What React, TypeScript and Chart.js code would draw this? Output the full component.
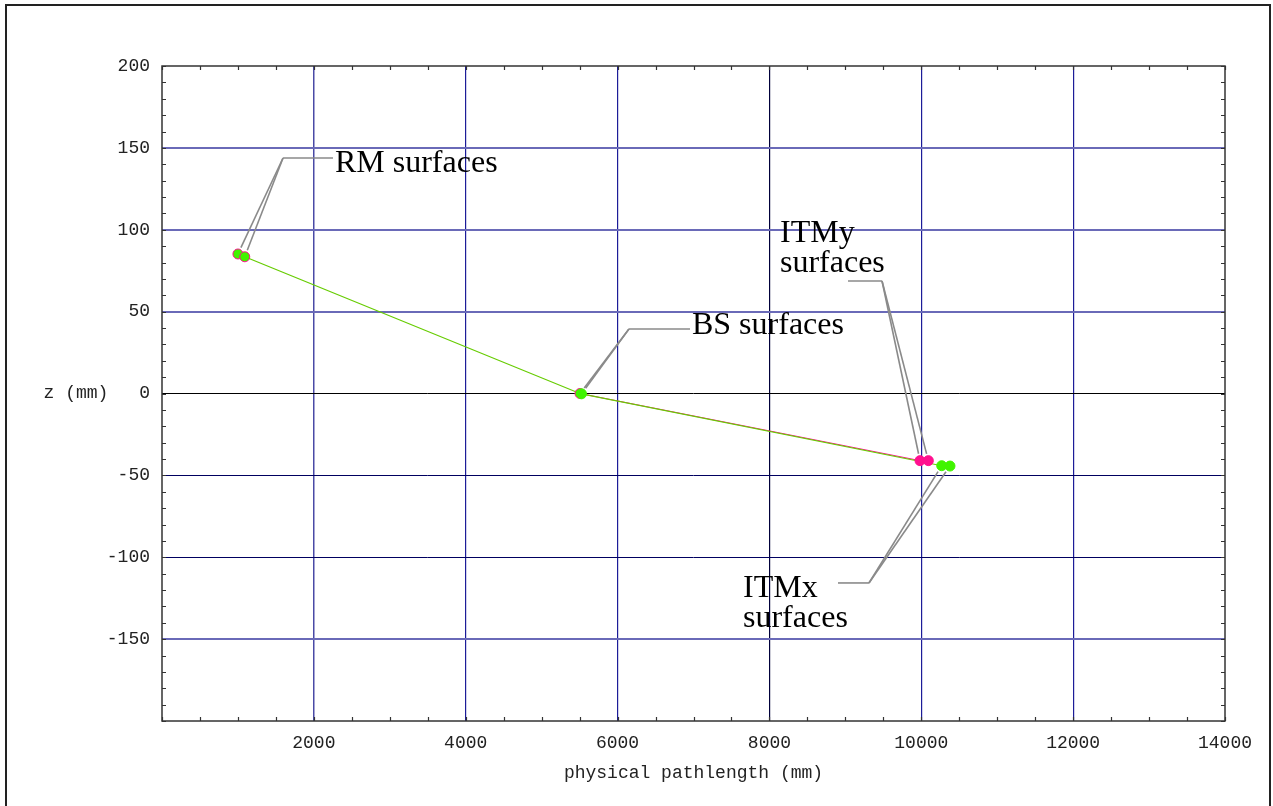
import React, { useEffect, useRef } from "react";
import { Chart, registerables } from "chart.js";

Chart.register(...registerables);

// ---- data (physical pathlength mm, z mm) ----
const rmX = [1000, 1090];
const rmZ = [85.2, 83.5];
const bsX = [5505, 5525];
const bsZ = [0.0, -0.2];
const itmyX = [9983, 10093];
const itmyZ = [-41.0, -41.0];
const itmxX = [10269, 10378];
const itmxZ = [-44.1, -44.3];

// ---- axes ----
const xMin = 0;
const xMax = 14000;
const xStep = 2000;
const xMinorStep = 500;
const zMin = -200;
const zMax = 200;
const zStep = 50;
const zMinorStep = 10;
const xTitle = "physical pathlength (mm)";
const zTitle = "z (mm)";

// ---- annotations (text, leader elbow, leader bar end, in data units) ----
const annText = [["RM surfaces"], ["BS surfaces"], ["ITMy", "surfaces"], ["ITMx", "surfaces"]];
const annTextX = [2278, 6980, 8139, 7652];
const annTextZ = [135.3, 36.3, 92.5, -124.3];
const annElbowX = [1594, 6150, 9483, 9311];
const annElbowZ = [143.8, 39.4, 68.7, -115.7];
const annBarEndX = [2252, 6954, 9035, 8903];
const annTargetsX = [rmX, bsX, itmyX, itmxX];
const annTargetsZ = [rmZ, bsZ, itmyZ, itmxZ];

const GREEN_LINE = "#66cc00";
const GREEN_PT = "#40f400";
const MAGENTA = "#ff108f";
const TICK_FONT = '"Liberation Mono", "DejaVu Sans Mono", monospace';
const SERIF = '"Liberation Serif", "DejaVu Serif", serif';

const pts = (xs: number[], zs: number[]) => xs.map((x, i) => ({ x, y: zs[i] }));

const decorPlugin = {
  id: "decor",
  afterDraw(chart: any) {
    const { ctx, chartArea: a } = chart;
    const xs = chart.scales.x;
    const ys = chart.scales.y;
    ctx.save();
    // outer frame
    ctx.strokeStyle = "#222";
    ctx.lineWidth = 2;
    ctx.strokeRect(6, 5, 1264, 830);
    // plot box
    ctx.strokeStyle = "#333";
    ctx.lineWidth = 1.5;
    ctx.strokeRect(a.left, a.top, a.right - a.left, a.bottom - a.top);
    // minor ticks, inward on all sides
    ctx.lineWidth = 1.2;
    ctx.beginPath();
    for (let v = xMin; v <= xMax; v += xMinorStep) {
      const p = Math.round(xs.getPixelForValue(v)) + 0.5;
      ctx.moveTo(p, a.bottom);
      ctx.lineTo(p, a.bottom - 4);
      ctx.moveTo(p, a.top);
      ctx.lineTo(p, a.top + 4);
    }
    for (let v = zMin; v <= zMax; v += zMinorStep) {
      const p = Math.round(ys.getPixelForValue(v)) + 0.5;
      ctx.moveTo(a.left, p);
      ctx.lineTo(a.left + 4, p);
      ctx.moveTo(a.right, p);
      ctx.lineTo(a.right - 4, p);
    }
    ctx.stroke();
    // z title (horizontal)
    ctx.fillStyle = "#222";
    ctx.font = "18px " + TICK_FONT;
    ctx.textAlign = "center";
    ctx.textBaseline = "middle";
    ctx.fillText(zTitle, 76, ys.getPixelForValue(0));
    // annotations
    for (let i = 0; i < annText.length; i++) {
      const ex = xs.getPixelForValue(annElbowX[i]);
      const ey = ys.getPixelForValue(annElbowZ[i]);
      const bx = xs.getPixelForValue(annBarEndX[i]);
      ctx.strokeStyle = "#8a8a8a";
      ctx.lineWidth = 1.6;
      ctx.beginPath();
      ctx.moveTo(bx, ey);
      ctx.lineTo(ex, ey);
      ctx.stroke();
      const tx = annTargetsX[i];
      const tz = annTargetsZ[i];
      for (let k = 0; k < tx.length; k++) {
        const px = xs.getPixelForValue(tx[k]);
        const py = ys.getPixelForValue(tz[k]);
        const dx = ex - px;
        const dy = ey - py;
        const len = Math.hypot(dx, dy);
        const sx = px + (dx / len) * 7;
        const sy = py + (dy / len) * 7;
        ctx.beginPath();
        ctx.moveTo(ex, ey);
        ctx.lineTo(sx, sy);
        ctx.stroke();
      }
      ctx.fillStyle = "#000";
      ctx.font = "32px " + SERIF;
      ctx.textAlign = "left";
      ctx.textBaseline = "alphabetic";
      const tX = xs.getPixelForValue(annTextX[i]);
      const tY = ys.getPixelForValue(annTextZ[i]);
      annText[i].forEach((line, j) => ctx.fillText(line, tX, tY + j * 30));
    }
    ctx.restore();
  },
};

export default function App() {
  const ref = useRef<HTMLCanvasElement | null>(null);
  useEffect(() => {
    document.body.style.margin = "0";
    document.body.style.overflow = "hidden";
    const canvas = ref.current!;
    const xGridColor = (c: any) => {
      const v = c.tick ? c.tick.value : null;
      if (v === null || v === xMin || v === xMax) return "rgba(0,0,0,0)";
      if (v === 2000) return "#4a4aa6";
      if (v === 8000) return "#00003a";
      return "#1c1c98";
    };
    const xGridWidth = (c: any) => (c.tick && c.tick.value === 2000 ? 1.5 : 1.2);
    const yGridColor = (c: any) => {
      const v = c.tick ? c.tick.value : null;
      if (v === null || v === zMin || v === zMax) return "rgba(0,0,0,0)";
      if (v === 0) return "#000000";
      if (v === -50 || v === -100) return "#000060";
      return "#6a6ab8";
    };
    const yGridWidth = (c: any) => {
      const v = c.tick ? c.tick.value : null;
      if (v === 0 || v === -50 || v === -100) return 1;
      return 2;
    };
    const chart = new Chart(canvas, {
      type: "scatter",
      data: {
        datasets: [
          {
            label: "ITMy",
            data: pts(itmyX, itmyZ),
            backgroundColor: MAGENTA,
            borderColor: MAGENTA,
            pointRadius: 5,
            pointHoverRadius: 5,
            showLine: false,
          },
          {
            label: "x-arm points",
            data: [...pts(rmX, rmZ), ...pts(bsX, bsZ), ...pts(itmxX, itmxZ)],
            backgroundColor: GREEN_PT,
            pointBorderColor: [MAGENTA, MAGENTA, MAGENTA, GREEN_PT, GREEN_PT, GREEN_PT],
            pointBorderWidth: 1,
            pointRadius: 5,
            pointHoverRadius: 5,
            showLine: false,
          },
          {
            label: "x-arm beam",
            data: [...pts(rmX, rmZ), ...pts(bsX, bsZ), ...pts(itmxX, itmxZ)],
            borderColor: GREEN_LINE,
            borderWidth: 1.2,
            pointRadius: 0,
            showLine: true,
          },
          {
            label: "y-arm beam",
            data: [...pts(bsX, bsZ), ...pts(itmyX, itmyZ)],
            borderColor: MAGENTA,
            borderWidth: 1,
            pointRadius: 0,
            showLine: true,
          },
        ],
      },
      options: {
        responsive: false,
        animation: false,
        events: [],
        layout: { padding: { top: 66, right: 48, left: 0, bottom: 0 } },
        plugins: { legend: { display: false }, tooltip: { enabled: false } },
        scales: {
          x: {
            type: "linear",
            min: xMin,
            max: xMax,
            afterFit: (s: any) => {
              s.height = 85;
            },
            border: { display: false },
            grid: { color: xGridColor, lineWidth: xGridWidth, drawTicks: false },
            ticks: {
              stepSize: xStep,
              padding: 11,
              color: "#222",
              font: { family: TICK_FONT, size: 18 },
              maxRotation: 0,
              callback: (v: any) => (v === xMin ? "" : String(v)),
            },
            title: {
              display: true,
              text: xTitle,
              color: "#222",
              font: { family: TICK_FONT, size: 18 },
              padding: { top: 0, bottom: 22 },
            },
          },
          y: {
            type: "linear",
            min: zMin,
            max: zMax,
            afterFit: (s: any) => {
              s.width = 162;
            },
            border: { display: false },
            grid: { color: yGridColor, lineWidth: yGridWidth, drawTicks: false },
            ticks: {
              stepSize: zStep,
              padding: 12,
              color: "#222",
              font: { family: TICK_FONT, size: 18 },
              callback: (v: any) => (v === zMin ? "" : String(v)),
            },
          },
        },
      },
      plugins: [decorPlugin],
    });
    return () => chart.destroy();
  }, []);
  return <canvas ref={ref} width={1273} height={806} style={{ display: "block" }} />;
}
